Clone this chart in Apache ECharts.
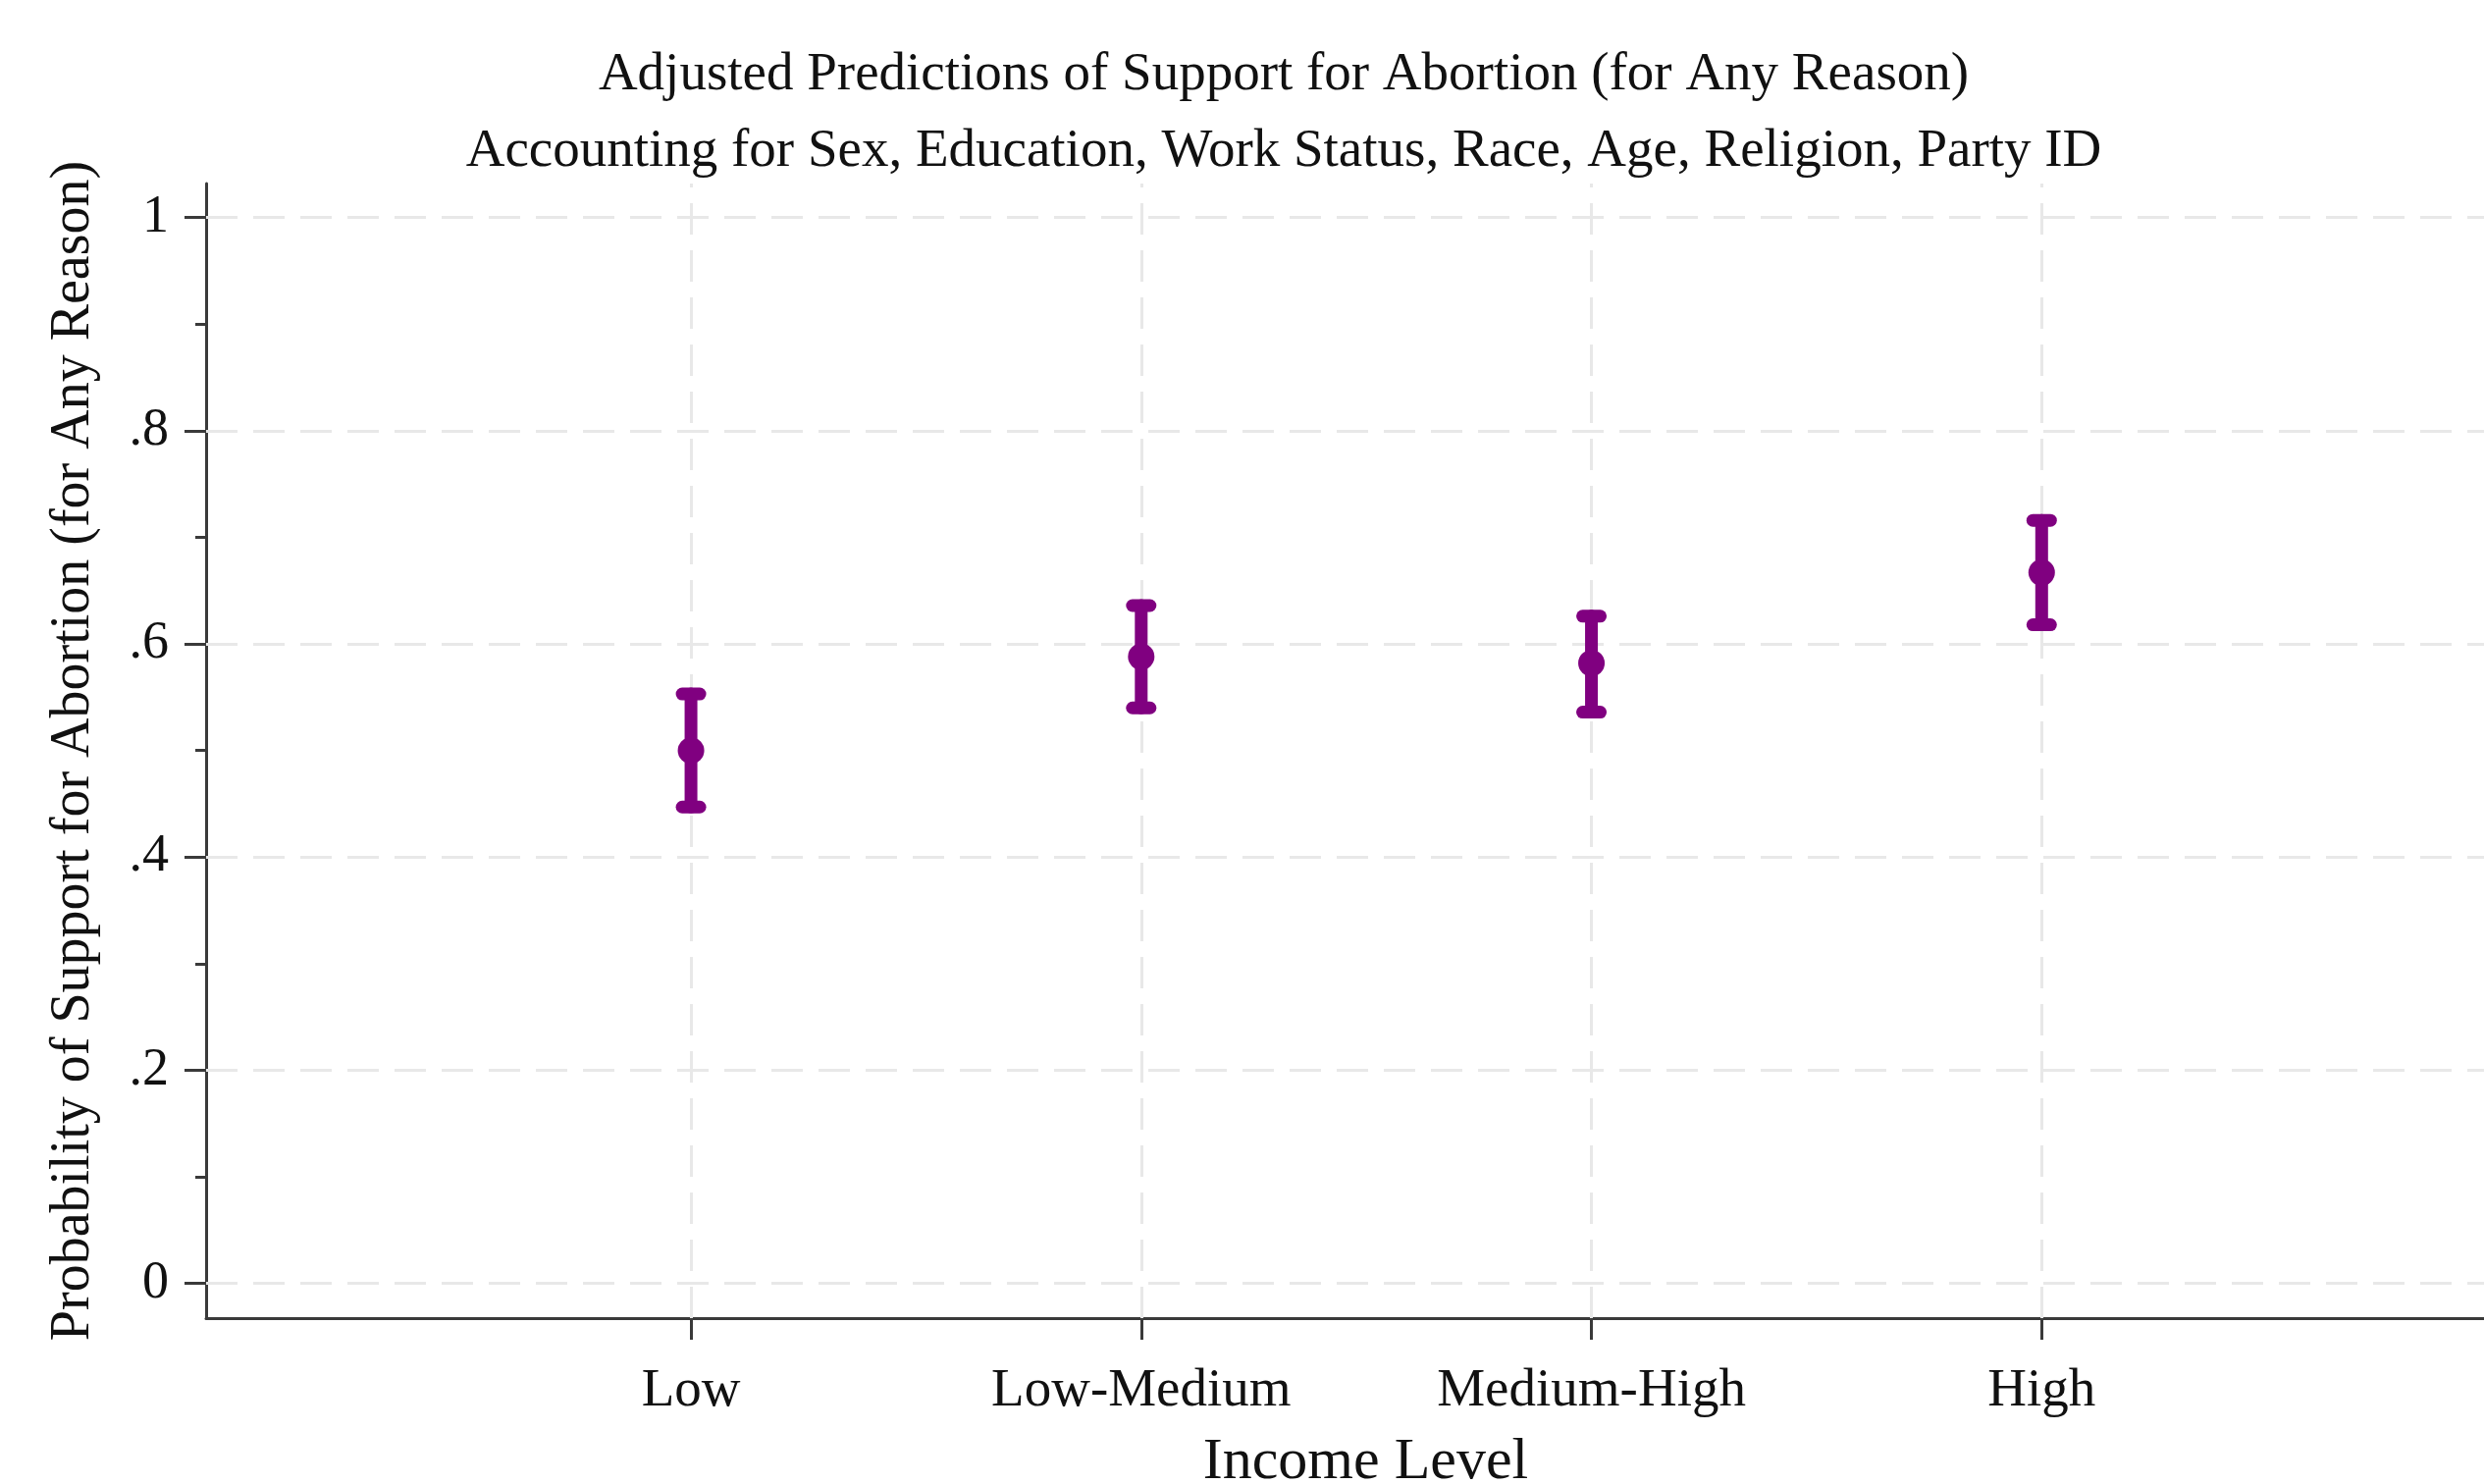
<!DOCTYPE html>
<html>
<head>
<meta charset="utf-8">
<script src="https://cdn.jsdelivr.net/npm/echarts@6/dist/echarts.min.js"></script>
<style>
html,body{margin:0;padding:0;background:#fff;overflow:hidden;}
#chart{width:2531px;height:1512px;}
</style>
</head>
<body>
<div id="chart"></div>
<script>
// ---- data ----
const categories = ['Low', 'Low-Medium', 'Medium-High', 'High'];
const estimates = [0.500, 0.588, 0.582, 0.667];
const lowerCI = [0.447, 0.540, 0.536, 0.618];
const upperCI = [0.553, 0.636, 0.626, 0.716];
const yTicks = [0, 0.2, 0.4, 0.6, 0.8, 1];
const yTickLabels = ['0', '.2', '.4', '.6', '.8', '1'];
const yMinorTicks = [0.1, 0.3, 0.5, 0.7, 0.9];
const titleLines = [
  'Adjusted Predictions of Support for Abortion (for Any Reason)',
  'Accounting for Sex, Education, Work Status, Race, Age, Religion, Party ID'
];
const xTitle = 'Income Level';
const yTitle = 'Probability of Support for Abortion (for Any Reason)';

// ---- build ----
const xPos = categories.map((c, i) => i + 1);
const points = categories.map((c, i) => [xPos[i], estimates[i], lowerCI[i], upperCI[i]]);

const FONT = 'Liberation Serif';
const PURPLE = '#800080';
const AXIS = '#3a3a3a';
const GRID = '#e8e8e8';

const chart = echarts.init(document.getElementById('chart'), null, {renderer: 'canvas'});

const gridLines = [
  ...yTicks.map(v => ({yAxis: v})),
  ...xPos.map(v => ({xAxis: v}))
];

chart.setOption({
  animation: false,
  backgroundColor: '#fff',
  textStyle: {fontFamily: FONT, color: '#111'},
  title: [
    {text: titleLines[0], left: 1303, top: 42, textAlign: 'center',
     textStyle: {fontFamily: FONT, fontSize: 55, fontWeight: 'normal', color: '#111', lineHeight: 60}},
    {text: titleLines[1], left: 1303, top: 120, textAlign: 'center',
     textStyle: {fontFamily: FONT, fontSize: 55, fontWeight: 'normal', color: '#111', lineHeight: 60}}
  ],
  grid: {left: 210, right: -42, top: 187, bottom: 169, containLabel: false, outerBoundsMode: 'none'},
  xAxis: {
    type: 'value',
    min: -0.077,
    max: 5.074,
    name: xTitle,
    nameLocation: 'middle',
    nameGap: 116,
    nameTextStyle: {fontFamily: FONT, fontSize: 60, color: '#111', lineHeight: 62},
    axisLine: {show: true, onZero: false, lineStyle: {color: AXIS, width: 3}},
    axisTick: {show: true, customValues: xPos, length: 22, lineStyle: {color: AXIS, width: 3}},
    axisLabel: {
      show: true, customValues: xPos, margin: 47,
      fontFamily: FONT, fontSize: 55, color: '#111', lineHeight: 55,
      formatter: v => categories[Math.round(v) - 1] || ''
    },
    splitLine: {show: false}
  },
  yAxis: [
    {
      type: 'value',
      min: -0.0326,
      max: 1.032,
      name: yTitle,
      nameLocation: 'middle',
      nameGap: 105,
      nameRotate: 90,
      nameTextStyle: {fontFamily: FONT, fontSize: 56, color: '#111', lineHeight: 60},
      axisLine: {show: true, onZero: false, lineStyle: {color: AXIS, width: 3}},
      axisTick: {show: true, customValues: yTicks, length: 22, lineStyle: {color: AXIS, width: 3}},
      axisLabel: {
        show: true, customValues: yTicks, margin: 38,
        fontFamily: FONT, fontSize: 54, color: '#111',
        formatter: v => {
          const i = yTicks.findIndex(t => Math.abs(t - v) < 1e-9);
          return i >= 0 ? yTickLabels[i] : '';
        }
      },
      splitLine: {show: false}
    },
    {
      type: 'value',
      min: -0.0326,
      max: 1.032,
      position: 'left',
      axisLine: {show: false, onZero: false},
      axisTick: {show: true, customValues: yMinorTicks, length: 11, lineStyle: {color: AXIS, width: 3}},
      axisLabel: {show: false},
      splitLine: {show: false}
    }
  ],
  series: [
    {
      type: 'line',
      data: points.map(p => [p[0], p[1]]),
      showSymbol: false,
      lineStyle: {opacity: 0},
      silent: true,
      z: 1,
      markLine: {
        silent: true,
        symbol: ['none', 'none'],
        label: {show: false},
        lineStyle: {color: GRID, width: 3, type: [32, 16]},
        data: gridLines
      }
    },
    {
      type: 'custom',
      z: 5,
      clip: false,
      data: points,
      encode: {x: 0, y: [1, 2, 3]},
      renderItem: function (params, api) {
        const x = api.value(0);
        const pM = api.coord([x, api.value(1)]);
        const pLo = api.coord([x, api.value(2)]);
        const pHi = api.coord([x, api.value(3)]);
        const st = {stroke: PURPLE, lineWidth: 13, lineCap: 'round', fill: null};
        const half = 9;
        return {
          type: 'group',
          children: [
            {type: 'line', shape: {x1: pHi[0], y1: pHi[1], x2: pLo[0], y2: pLo[1]}, style: st},
            {type: 'line', shape: {x1: pHi[0] - half, y1: pHi[1], x2: pHi[0] + half, y2: pHi[1]}, style: st},
            {type: 'line', shape: {x1: pLo[0] - half, y1: pLo[1], x2: pLo[0] + half, y2: pLo[1]}, style: st},
            {type: 'circle', shape: {cx: pM[0], cy: pM[1], r: 13.5}, style: {fill: PURPLE}}
          ]
        };
      }
    }
  ]
});
</script>
</body>
</html>
